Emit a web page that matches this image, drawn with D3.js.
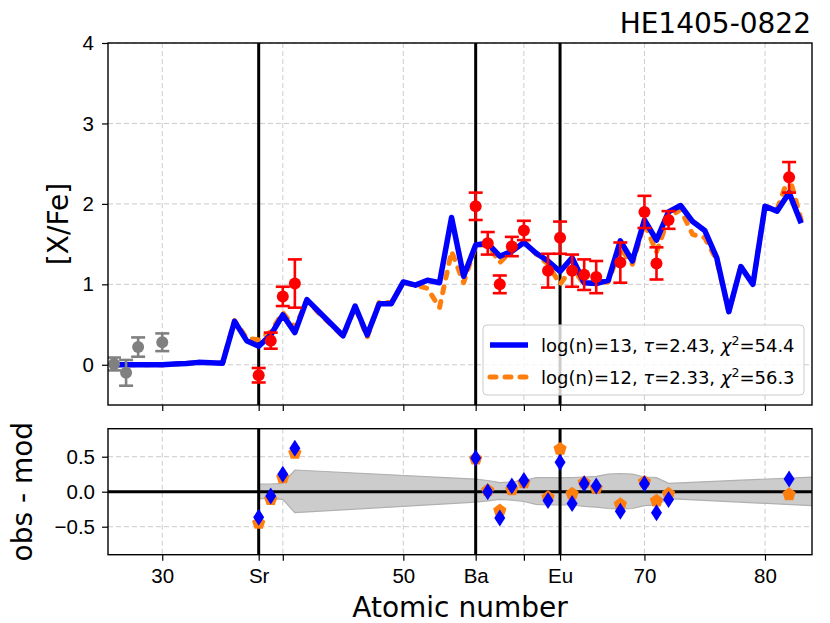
<!DOCTYPE html>
<html>
<head>
<meta charset="utf-8">
<script src="https://cdnjs.cloudflare.com/ajax/libs/d3/7.8.5/d3.min.js"></script>
<style>
    body { margin:0; padding:0; background:#fff; }
    svg { font-family: "DejaVu Sans", sans-serif; }
    .grid line { stroke:#cccccc; stroke-width:1; stroke-dasharray:5,3; }
    .axis path.domain { display:none; }
    .axis line { stroke:#000; stroke-width:1.2; }
    .axis text { font-size:20.5px; fill:#000; }
</style>
</head>
<body>
<svg width="830" height="623"></svg>
<script>

// model abundance patterns (atomic number -> [X/Fe])
var modelZ = [26,27,28,29,30,31,32,33,34,35,36,37,38,39,40,41,42,43,44,45,46,47,48,49,50,51,52,53,54,
              55,56,57,58,59,60,61,62,63,64,65,66,67,68,69,70,71,72,73,74,75,76,77,78,79,80,81,82,83];
var model13 = [0.00,0.00,0.00,0.00,0.00,0.01,0.015,0.03,0.025,0.02,0.54,0.30,0.23,0.37,0.62,0.40,0.81,0.66,0.51,0.36,
               0.73,0.37,0.76,0.76,1.03,0.99,1.05,1.02,1.83,1.10,1.49,1.51,1.35,1.41,1.52,1.39,1.29,1.16,1.33,1.02,
               1.01,1.05,1.54,1.29,1.80,1.55,1.90,1.98,1.78,1.67,1.33,0.66,1.22,1.00,1.97,1.91,2.14,1.76];
var model12 = [0.00,0.00,0.00,0.00,0.00,0.01,0.015,0.03,0.025,0.02,0.55,0.33,0.31,0.41,0.65,0.46,0.80,0.64,0.50,0.35,
               0.72,0.34,0.78,0.77,1.02,0.99,0.95,0.71,1.41,1.02,1.48,1.50,1.27,1.42,1.54,1.38,1.25,1.00,1.21,1.00,
               1.03,1.03,1.45,1.25,1.76,1.40,1.83,1.93,1.62,1.58,1.30,0.66,1.22,1.00,1.97,1.93,2.35,1.80];

// observed abundances
var obsZ   = [38, 39, 40, 41, 56, 57, 58, 59, 60, 62, 63, 64, 65, 66, 68, 70, 71, 72, 82];
var obsVal = [-0.13,0.30,0.85,1.01,1.97,1.51,1.00,1.47,1.67,1.17,1.58,1.17,1.12,1.09,1.27,1.90,1.26,1.80,2.33];
var obsErr = [0.09,0.10,0.12,0.30,0.17,0.14,0.11,0.12,0.12,0.21,0.20,0.20,0.19,0.20,0.25,0.20,0.20,0.11,0.19];

// light elements, not fitted
var lightZ   = [26, 27, 28, 30];
var lightVal = [0.01, -0.10, 0.22, 0.28];
var lightErr = [0.08, 0.16, 0.12, 0.11];

// residuals obs - mod
var resid13 = [-0.365,-0.06,0.25,0.62,0.48,0.00,-0.375,0.08,0.16,-0.125,0.42,-0.17,0.115,0.08,-0.28,0.115,-0.30,-0.11,0.18];
var resid12 = [-0.45,-0.11,0.20,0.55,0.47,0.02,-0.27,0.03,0.13,-0.08,0.61,-0.03,0.13,0.05,-0.18,0.14,-0.13,-0.03,-0.04];

// uncertainty band around zero
var bandZ  = [38, 39, 40, 41, 56, 57, 58, 59, 60, 61, 62, 63, 64, 65, 66, 67, 68, 69, 70, 71, 72, 84];
var bandHi = [0.11,0.11,0.12,0.31,0.18,0.16,0.13,0.14,0.16,0.20,0.20,0.20,0.20,0.21,0.22,0.25,0.26,0.25,0.21,0.20,0.12,0.21];
var bandLo = [-0.10,-0.10,-0.11,-0.30,-0.15,-0.13,-0.11,-0.12,-0.14,-0.18,-0.19,-0.19,-0.19,-0.21,-0.22,-0.24,-0.25,-0.24,-0.20,-0.19,-0.10,-0.20];

var xTicks      = [30, 38, 40, 50, 56, 60, 63, 70, 80];
var xTickLabels = ["30", "Sr", "", "50", "Ba", "", "Eu", "70", "80"];
var markZ       = [38, 56, 63];
var yTopTicks   = [0, 1, 2, 3, 4];
var yBotTicks   = [-0.5, 0, 0.5];

var legendLogN = ["13", "12"];
var legendTau  = ["2.43", "2.33"];
var legendChi2 = ["54.4", "56.3"];

var starName = "HE1405-0822";

var svg = d3.select("svg");
var left = 108, right = 812;
var topT = 43, botT = 405;
var topB = 428.7, botB = 554.7;

var x = d3.scaleLinear().domain([25.5, 83.9]).range([left, right]);
var yT = d3.scaleLinear().domain([-0.5, 4]).range([botT, topT]);
var yB = d3.scaleLinear().domain([-0.9, 0.9]).range([botB, topB]);

var blue = "#0000ff", orange = "#ff7f0e", red = "#ff0000", grey = "#808080";

var defs = svg.append("defs");
defs.append("clipPath").attr("id", "clipT").append("rect")
    .attr("x", left).attr("y", topT).attr("width", right - left).attr("height", botT - topT);
defs.append("clipPath").attr("id", "clipB").append("rect")
    .attr("x", left).attr("y", topB).attr("width", right - left).attr("height", botB - topB);

function grid(yScale, yTicks, y0, y1) {
    var g = svg.append("g").attr("class", "grid");
    g.selectAll(".gx").data(xTicks).enter().append("line")
        .attr("x1", function(d) { return x(d); }).attr("x2", function(d) { return x(d); })
        .attr("y1", y0).attr("y2", y1);
    g.selectAll(".gy").data(yTicks).enter().append("line")
        .attr("x1", left).attr("x2", right)
        .attr("y1", function(d) { return yScale(d); }).attr("y2", function(d) { return yScale(d); });
}

// ---------- top panel ----------
grid(yT, yTopTicks, topT, botT);

var gT = svg.append("g").attr("clip-path", "url(#clipT)");

gT.selectAll(".mark").data(markZ).enter().append("line")
    .attr("x1", function(d) { return x(d); }).attr("x2", function(d) { return x(d); })
    .attr("y1", topT).attr("y2", botT)
    .attr("stroke", "#000").attr("stroke-width", 3);

var line = function(vals) {
    return d3.line().x(function(d) { return x(d); }).y(function(d, i) { return yT(vals[i]); })(modelZ);
};

gT.append("path").attr("d", line(model12))
    .attr("fill", "none").attr("stroke", orange).attr("stroke-width", 5)
    .attr("stroke-linecap", "round").attr("stroke-linejoin", "round")
    .attr("stroke-dasharray", "6,9");

gT.append("path").attr("d", line(model13))
    .attr("fill", "none").attr("stroke", blue).attr("stroke-width", 5.5)
    .attr("stroke-linejoin", "round");

function errPoints(zs, vals, errs, col) {
    var g = gT.append("g");
    var p = g.selectAll("g").data(zs).enter().append("g");
    p.append("line")
        .attr("x1", function(d) { return x(d); }).attr("x2", function(d) { return x(d); })
        .attr("y1", function(d, i) { return yT(vals[i] - errs[i]); })
        .attr("y2", function(d, i) { return yT(vals[i] + errs[i]); })
        .attr("stroke", col).attr("stroke-width", 2.6);
    [-1, 1].forEach(function(s) {
        p.append("line")
            .attr("x1", function(d) { return x(d) - 7; }).attr("x2", function(d) { return x(d) + 7; })
            .attr("y1", function(d, i) { return yT(vals[i] + s * errs[i]); })
            .attr("y2", function(d, i) { return yT(vals[i] + s * errs[i]); })
            .attr("stroke", col).attr("stroke-width", 2.6);
    });
    p.append("circle")
        .attr("cx", function(d) { return x(d); })
        .attr("cy", function(d, i) { return yT(vals[i]); })
        .attr("r", 6).attr("fill", col);
}
errPoints(lightZ, lightVal, lightErr, grey);
errPoints(obsZ, obsVal, obsErr, red);

svg.append("g").attr("class", "axis")
    .attr("transform", "translate(0," + botT + ")")
    .call(d3.axisBottom(x).tickValues(xTicks).tickFormat("").tickSize(6).tickSizeOuter(0));
svg.append("g").attr("class", "axis")
    .attr("transform", "translate(" + left + ",0)")
    .call(d3.axisLeft(yT).tickValues(yTopTicks).tickFormat(d3.format("d")).tickSize(6).tickPadding(8).tickSizeOuter(0));

svg.append("rect").attr("x", left).attr("y", topT)
    .attr("width", right - left).attr("height", botT - topT)
    .attr("fill", "none").attr("stroke", "#000").attr("stroke-width", 1.4);

// legend
var leg = svg.append("g");
leg.append("rect").attr("x", 483).attr("y", 325).attr("width", 321).attr("height", 70)
    .attr("rx", 4).attr("fill", "#fff").attr("fill-opacity", 0.8)
    .attr("stroke", "#cccccc").attr("stroke-width", 1);
[0, 1].forEach(function(i) {
    var cy = 345 + i * 32;
    var h = leg.append("line").attr("x1", 490).attr("x2", 528).attr("y1", cy).attr("y2", cy);
    if (i === 0) {
        h.attr("stroke", blue).attr("stroke-width", 5.5);
    } else {
        h.attr("stroke", orange).attr("stroke-width", 5).attr("stroke-linecap", "round")
         .attr("stroke-dasharray", "6,9");
    }
    var t = leg.append("text").attr("x", 541).attr("y", cy + 6.5).style("font-size", "18px");
    t.append("tspan").text("log(n)=" + legendLogN[i] + ", ");
    t.append("tspan").style("font-style", "italic").text("\u03c4");
    t.append("tspan").text("=" + legendTau[i] + ", ");
    t.append("tspan").style("font-style", "italic").text("\u03c7");
    t.append("tspan").attr("dy", -7).style("font-size", "12.5px").text("2");
    t.append("tspan").attr("dy", 7).text("=" + legendChi2[i]);
});

// ---------- bottom panel ----------
grid(yB, yBotTicks, topB, botB);

var gB = svg.append("g").attr("clip-path", "url(#clipB)");

var area = d3.area()
    .x(function(d) { return x(d); })
    .y0(function(d, i) { return yB(bandLo[i]); })
    .y1(function(d, i) { return yB(bandHi[i]); });
gB.append("path").attr("d", area(bandZ))
    .attr("fill", "#cccccc").attr("stroke", "#b0b0b0").attr("stroke-width", 1.2);

gB.append("line").attr("x1", left).attr("x2", right)
    .attr("y1", yB(0)).attr("y2", yB(0))
    .attr("stroke", "#000").attr("stroke-width", 3);

gB.selectAll(".mark").data(markZ).enter().append("line")
    .attr("x1", function(d) { return x(d); }).attr("x2", function(d) { return x(d); })
    .attr("y1", topB).attr("y2", botB)
    .attr("stroke", "#000").attr("stroke-width", 3);

function pentagon(r) {
    var pts = d3.range(5).map(function(k) {
        var a = -Math.PI / 2 + k * 2 * Math.PI / 5;
        return [r * Math.cos(a), r * Math.sin(a)];
    });
    return "M" + pts.join("L") + "Z";
}
gB.selectAll(".pent").data(obsZ).enter().append("path")
    .attr("d", pentagon(7))
    .attr("transform", function(d, i) { return "translate(" + x(d) + "," + yB(resid12[i]) + ")"; })
    .attr("fill", orange);

gB.selectAll(".diam").data(obsZ).enter().append("path")
    .attr("d", "M0,-8.5L5.5,0L0,8.5L-5.5,0Z")
    .attr("transform", function(d, i) { return "translate(" + x(d) + "," + yB(resid13[i]) + ")"; })
    .attr("fill", blue);

svg.append("g").attr("class", "axis")
    .attr("transform", "translate(0," + botB + ")")
    .call(d3.axisBottom(x).tickValues(xTicks)
        .tickFormat(function(d, i) { return xTickLabels[i]; })
        .tickSize(6).tickPadding(8).tickSizeOuter(0));
svg.append("g").attr("class", "axis")
    .attr("transform", "translate(" + left + ",0)")
    .call(d3.axisLeft(yB).tickValues(yBotTicks)
        .tickFormat(function(d) { return d3.format(".1f")(d).replace("-", "\u2212"); })
        .tickSize(6).tickPadding(7).tickSizeOuter(0));

svg.append("rect").attr("x", left).attr("y", topB)
    .attr("width", right - left).attr("height", botB - topB)
    .attr("fill", "none").attr("stroke", "#000").attr("stroke-width", 1.4);

// ---------- labels ----------
svg.append("text").attr("x", (left + right) / 2).attr("y", 617)
    .attr("text-anchor", "middle").style("font-size", "28px").text("Atomic number");
svg.append("text").attr("transform", "translate(68," + (topT + botT) / 2 + ") rotate(-90)")
    .attr("text-anchor", "middle").style("font-size", "28px").text("[X/Fe]");
svg.append("text").attr("transform", "translate(32," + (topB + botB) / 2 + ") rotate(-90)")
    .attr("text-anchor", "middle").style("font-size", "28px").text("obs - mod");
svg.append("text").attr("x", 811).attr("y", 33)
    .attr("text-anchor", "end").style("font-size", "28px").text(starName);

</script>
</body>
</html>
